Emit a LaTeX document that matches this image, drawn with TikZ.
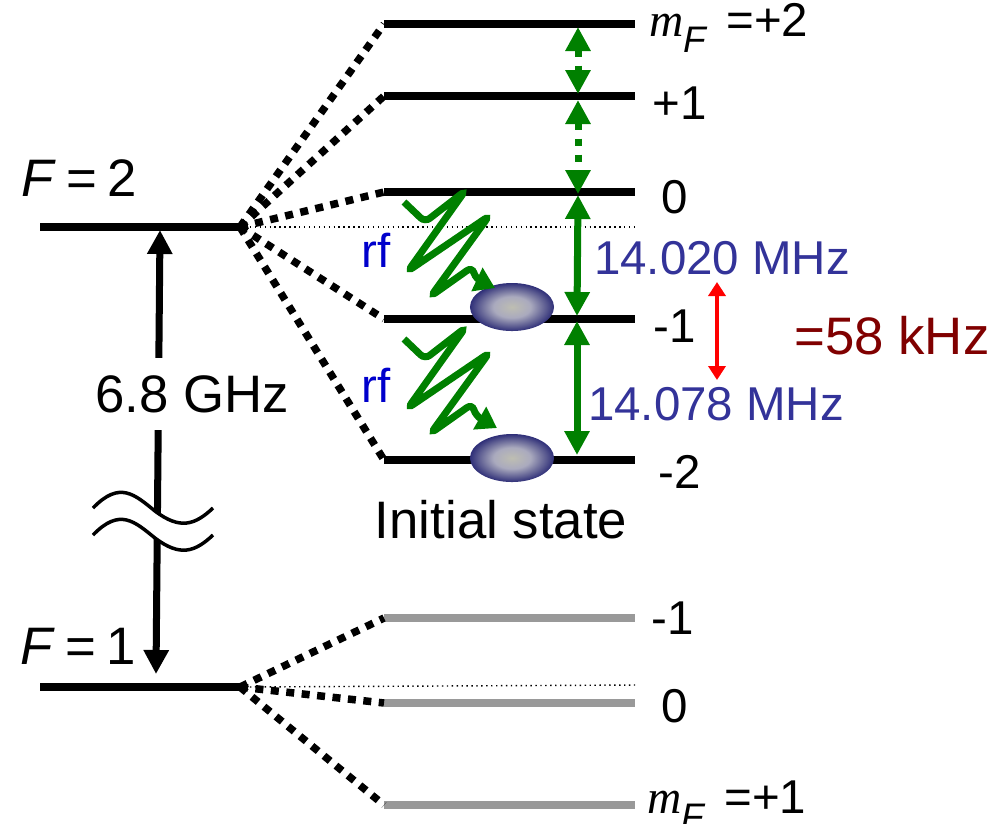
\documentclass[tikz,border=0pt]{standalone}
\usepackage{fontspec}
\setmainfont{Liberation Sans}
\newfontfamily\serifm{Liberation Serif}
\usetikzlibrary{arrows.meta,shapes.geometric}
\definecolor{rfgreen}{RGB}{0,128,0}
\definecolor{freqblue}{RGB}{51,51,153}
\definecolor{splitred}{RGB}{128,0,0}
\definecolor{cloudmid}{RGB}{170,170,190}
\definecolor{cloudhalf}{RGB}{92,92,145}
\definecolor{cloudin}{RGB}{190,190,178}
\definecolor{cloudout}{RGB}{20,20,105}
\pgfdeclareradialshading{cloudshade}{\pgfpointorigin}{color(0bp)=(cloudin); color(11bp)=(cloudmid); color(20bp)=(cloudhalf); color(28bp)=(cloudout); color(50bp)=(cloudout)}
\newcommand{\mFlabel}[1]{{\serifm\itshape m}\raisebox{-0.33em}{\fontsize{10.5pt}{10.5pt}\selectfont\itshape F}\hspace{0.42em}=#1}
\tikzset{
  lvl/.style={line width=0.075cm,black},
  graylvl/.style={line width=0.075cm,black!40},
  forkline/.style={line width=0.075cm,dash pattern=on 0.08cm off 0.075cm},
  thinline/.style={line width=0.4pt,densely dotted},
  transarrow/.style={line width=0.07cm,rfgreen,{Triangle[length=0.24cm,width=0.24cm]}-{Triangle[length=0.24cm,width=0.24cm]}},
  dashedtrans/.style={transarrow,dash pattern=on 0.07cm off 0.09cm},
  rfwave/.style={line width=0.07cm,rfgreen,rounded corners=0.06cm,-{Triangle[length=0.2cm,width=0.25cm]}},
  atomcloud/.style={ellipse,minimum width=0.84cm,minimum height=0.48cm,inner sep=0pt,shading=cloudshade},
  biglabel/.style={font=\fontsize{15pt}{15pt}\selectfont},
  smalllabel/.style={font=\fontsize{13.5pt}{13.5pt}\selectfont},
  breakwave/.style={line width=0.035cm},
}
\begin{document}
\begin{tikzpicture}[x=0.01cm,y=-0.01cm]
\useasboundingbox (0,0) rectangle (997,823);
% hyperfine levels
\coordinate (ftwoL) at (40,227);
\coordinate (ftwoR) at (240,227);
\coordinate (foneL) at (40,687);
\coordinate (foneR) at (240,687);
\coordinate (ptwoL) at (384,24);
\coordinate (ptwoR) at (635,24);
\coordinate (poneL) at (384,96);
\coordinate (poneR) at (635,96);
\coordinate (zeroL) at (384,192);
\coordinate (zeroR) at (635,192);
\coordinate (moneL) at (384,319);
\coordinate (moneR) at (635,319);
\coordinate (mtwoL) at (384,460);
\coordinate (mtwoR) at (635,460);
\coordinate (gaL) at (384,618);
\coordinate (gaR) at (635,618);
\coordinate (gbL) at (384,703);
\coordinate (gbR) at (635,703);
\coordinate (gcL) at (384,805);
\coordinate (gcR) at (635,805);
\coordinate (refa) at (635,227);
\coordinate (refb) at (635,685);
\draw[thinline] (ftwoR) -- (refa);
\draw[thinline] (foneR) -- (refb);
\draw[lvl] (ftwoL) -- (ftwoR);
\draw[lvl] (foneL) -- (foneR);
\draw[lvl] (ptwoL) -- (ptwoR);
\draw[lvl] (poneL) -- (poneR);
\draw[lvl] (zeroL) -- (zeroR);
\draw[lvl] (moneL) -- (moneR);
\draw[lvl] (mtwoL) -- (mtwoR);
\draw[graylvl] (gaL) -- (gaR);
\draw[graylvl] (gbL) -- (gbR);
\draw[graylvl] (gcL) -- (gcR);
% fans
\draw[forkline] (ftwoR) -- (ptwoL);
\draw[forkline] (ftwoR) -- (poneL);
\draw[forkline] (ftwoR) -- (zeroL);
\draw[forkline] (ftwoR) -- (moneL);
\draw[forkline] (ftwoR) -- (mtwoL);
\draw[forkline] (foneR) -- (gaL);
\draw[forkline] (foneR) -- (gbL);
\draw[forkline] (foneR) -- (gcL);
% atoms
\node at (512,307) [atomcloud] (cloudb) {};
\node at (512,458) [atomcloud] (clouda) {};
% transitions
\coordinate (ta) at (578,27);
\coordinate (tb) at (578,94);
\coordinate (tc) at (578,100);
\coordinate (td) at (578,194);
\coordinate (te) at (578,195);
\coordinate (tf) at (577,316);
\coordinate (tg) at (577,321);
\coordinate (th) at (577,455);
\draw[dashedtrans] (ta) -- (tb);
\draw[dashedtrans] (tc) -- (td);
\draw[transarrow] (te) -- (tf);
\draw[transarrow] (tg) -- (th);
% rf
\draw[rfwave] (404,202) -- (425,222) -- (465,191) -- (408,271) -- (489,216) -- (431,296) -- (472,267) -- (476,279) -- (495,288);
\draw[rfwave] (404,339) -- (425,359) -- (465,328) -- (408,408) -- (489,353) -- (431,433) -- (472,404) -- (476,416) -- (497,428);
\node at (376,250) [smalllabel,text=blue!80!black] (rfb) {rf};
\node at (376,385) [smalllabel,text=blue!80!black] (rfa) {rf};
% microwave
\coordinate (mwtop) at (160,230);
\coordinate (mwbot) at (156,674);
\draw[line width=0.07cm,{Triangle[length=0.24cm,width=0.24cm]}-{Triangle[length=0.24cm,width=0.24cm]}] (mwtop) -- (mwbot);
\node at (192,394) [biglabel,fill=white,inner sep=2pt,inner ysep=5pt] (mwlabel) {6.8 GHz};
\fill[white] (93,508) .. controls (120,480) and (135,495) .. (155,511) .. controls (180,530) and (195,525) .. (213,508) -- (213,535) .. controls (195,552) and (180,557) .. (155,538) .. controls (135,522) and (120,507) .. (93,535) -- cycle;
\draw[breakwave] (93,508) .. controls (120,480) and (135,495) .. (155,511) .. controls (180,530) and (195,525) .. (213,508);
\draw[breakwave] (93,535) .. controls (120,507) and (135,522) .. (155,538) .. controls (180,557) and (195,552) .. (213,535);
% labels
\node at (79,178) [biglabel] (ftwolabel) {\textit{F}\hspace{0.2em}=\hspace{0.2em}2};
\node at (78,646) [biglabel] (fonelabel) {\textit{F}\hspace{0.2em}=\hspace{0.2em}1};
\node at (729,28) [smalllabel] (ptwolabel) {\mFlabel{+2}};
\node at (680,103) [smalllabel] (ponelabel) {+1};
\node at (675,197) [smalllabel] (zerolabel) {0};
\node at (675,326) [smalllabel] (monelabel) {-1};
\node at (680,472) [smalllabel] (mtwolabel) {-2};
\node at (673,618) [smalllabel] (galabel) {-1};
\node at (675,706) [smalllabel] (gblabel) {0};
\node at (727,805) [smalllabel] (gclabel) {\mFlabel{+1}};
\node at (501,520) [biglabel] (initlabel) {Initial state};
\node at (722,258) [smalllabel,text=freqblue] (freqb) {14.020 MHz};
\node at (716,404) [smalllabel,text=freqblue] (freqa) {14.078 MHz};
\node at (892,336) [biglabel,text=splitred] (splitlabel) {=58 kHz};
\draw[red,line width=0.04cm,{Triangle[length=0.14cm,width=0.17cm]}-{Triangle[length=0.14cm,width=0.17cm]}] (717,282) -- (717,380);
\end{tikzpicture}
\end{document}
